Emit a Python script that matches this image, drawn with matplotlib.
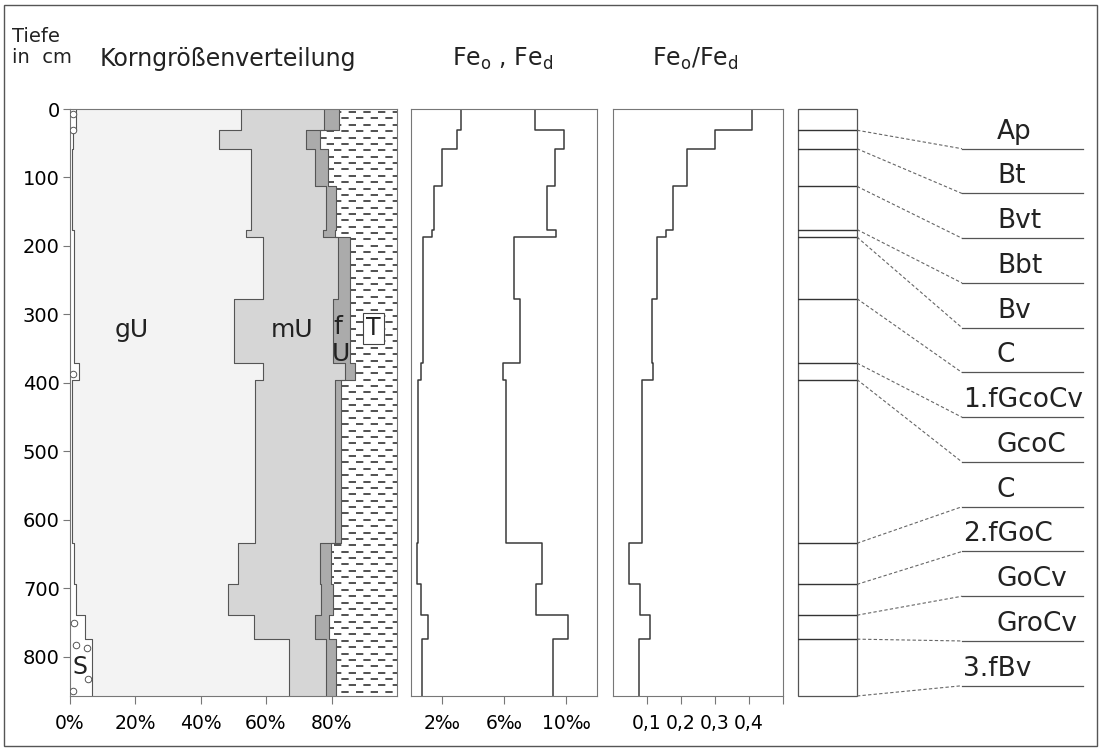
import numpy as np
import matplotlib
matplotlib.use("Agg")
import matplotlib.pyplot as plt
from matplotlib.patches import Polygon, Rectangle
from matplotlib.collections import LineCollection

plt.rcParams['font.family'] = ['DejaVu Sans']
plt.rcParams['mathtext.default'] = 'regular'

# ---------------- data ----------------
depths = [0, 31, 58, 113, 176, 187, 277, 371, 395, 634, 694, 739, 774, 857]
horizons = ["Ap", "Bt", "Bvt", "Bbt", "Bv", "C", "1.fGcoCv", "GcoC", "C",
            "2.fGoC", "GoCv", "GroCv", "3.fBv"]
# cumulative grain size boundaries (%)
sand_cum = [1.9, 1.2, 0.7, 0.7, 1.4, 1.4, 1.4, 2.9, 0.7, 1.5, 2.0, 4.7, 6.8]
gU_cum = [52.4, 45.7, 55.4, 55.4, 53.9, 59.0, 50.3, 59.0, 56.5, 51.4, 48.4, 56.2, 66.9]
mU_cum = [77.6, 72.2, 75.1, 78.3, 77.3, 82.0, 80.4, 84.0, 81.0, 76.4, 76.9, 74.9, 78.3]
fU_cum = [82.4, 76.6, 78.8, 81.5, 81.2, 85.6, 85.6, 87.3, 83.0, 79.7, 80.4, 79.1, 81.4]
# gravel/sand circle marks (x %, depth cm)
stone_x = [1.0, 1.0, 1.2, 1.5, 2.0, 5.3, 5.6, 1.2]
stone_y = [7, 31, 387, 750, 782, 787, 832, 850]
# iron (permille)
fe_o = [3.2, 2.95, 2.0, 1.5, 1.35, 0.8, 0.75, 0.65, 0.47, 0.38, 0.63, 1.1, 0.7]
fe_d = [8.0, 9.87, 9.3, 8.8, 9.35, 6.67, 7.0, 5.96, 6.15, 8.46, 8.08, 10.1, 9.17]
ratio = [0.409, 0.30, 0.217, 0.176, 0.155, 0.13, 0.114, 0.118, 0.086, 0.047, 0.079, 0.11, 0.077]

pct_ticks = [0, 20, 40, 60, 80]
pct_labels = ["0%", "20%", "40%", "60%", "80%"]
fe_ticks = [2, 6, 10]
fe_labels = ["2‰", "6‰", "10‰"]
ratio_ticks = [0.1, 0.2, 0.3, 0.4, 0.5]
ratio_labels = ["0,1", "0,2", "0,3", "0,4", ""]
depth_ticks = [0, 100, 200, 300, 400, 500, 600, 700, 800]

# ---------------- helpers ----------------
W, H = 1106, 751
fig = plt.figure(figsize=(W / 100, H / 100), dpi=100)


def px_axes(x0, y0, x1, y1):
    return fig.add_axes([x0 / W, 1 - y1 / H, (x1 - x0) / W, (y1 - y0) / H])


def ftext(x, y, s, **kw):
    fig.text(x / W, 1 - y / H, s, **kw)


def steps(bounds, vals):
    ys, xs = [], []
    for i, v in enumerate(vals):
        ys += [bounds[i], bounds[i + 1]]
        xs += [v, v]
    return np.array(ys, float), np.array(xs, float)


spine_c = "#777777"
line_c = "#3a3a3a"
DMAX = depths[-1]


def style_axes(ax):
    ax.set_ylim(DMAX, 0)
    for s in ax.spines.values():
        s.set_color(spine_c)
        s.set_linewidth(0.8)
    ax.tick_params(direction="out", length=6, width=0.8, color=spine_c,
                   labelsize=13.5, pad=7)


# frame
fig.patches.append(Rectangle((4 / W, 5 / H), 1093 / W, 741 / H, transform=fig.transFigure,
                             fill=False, edgecolor="#555555", linewidth=1.0))

# ---------------- panel 1: grain size ----------------
ax1 = px_axes(69.5, 109, 397, 696)
style_axes(ax1)
ax1.set_xlim(0, 100)
ys, s_x = steps(depths, sand_cum)
_, g_x = steps(depths, gU_cum)
_, m_x = steps(depths, mU_cum)
_, f_x = steps(depths, fU_cum)
ax1.fill_betweenx(ys, 0, s_x, color="white", lw=0)
ax1.fill_betweenx(ys, s_x, g_x, color="#f3f3f3", lw=0)
ax1.fill_betweenx(ys, g_x, m_x, color="#d6d6d6", lw=0)
ax1.fill_betweenx(ys, m_x, f_x, color="#ababab", lw=0)
tverts = np.vstack([np.column_stack([f_x, ys]),
                    np.column_stack([np.full(len(ys), 100.0), ys[::-1]])])
tpoly = Polygon(tverts, closed=True, facecolor="white", edgecolor="none")
ax1.add_patch(tpoly)
# dashed clay pattern
rows = np.arange(4.5, DMAX, 9.3)
segs = [[(0, r), (100, r)] for r in rows]
styles = [((0 if i % 2 == 0 else 4.8), (4.8, 4.8)) for i in range(len(rows))]
lc = LineCollection(segs, colors="#222222", linewidths=1.1, linestyles=styles)
ax1.add_collection(lc)
lc.set_clip_path(tpoly)
for xarr in (s_x, g_x, m_x, f_x):
    ax1.plot(xarr, ys, color="#555555", lw=0.8)
ax1.scatter(stone_x, stone_y, s=22, facecolors="white", edgecolors="#555555",
            linewidths=0.7, zorder=5)
ax1.set_xticks(pct_ticks)
ax1.set_xticklabels(pct_labels)
ax1.set_yticks(depth_ticks)
ax1.set_yticklabels([str(d) for d in depth_ticks])
ax1.tick_params(axis="y", length=5, pad=2, labelsize=14)
ax1.text(19, 323, "gU", fontsize=18, ha="center", va="center", color="#222")
ax1.text(68, 323, "mU", fontsize=18, ha="center", va="center", color="#222")
ax1.text(81.8, 318, "f", fontsize=18, ha="center", va="center", color="#222")
ax1.text(83, 357, "U", fontsize=18, ha="center", va="center", color="#222")
ax1.text(92.8, 320, "T", fontsize=17, ha="center", va="center", color="#222",
         bbox=dict(boxstyle="square,pad=0.15", fc="white", ec="#444", lw=0.8))
ax1.text(3.3, 814, "S", fontsize=17, ha="center", va="center", color="#222", zorder=6)

# ---------------- panel 2: Fe_o, Fe_d ----------------
ax2 = px_axes(411, 109, 597, 696)
style_axes(ax2)
ax2.set_xlim(0, 12)
ys2, feo_x = steps(depths, fe_o)
_, fed_x = steps(depths, fe_d)
ax2.plot(feo_x, ys2, color=line_c, lw=1.1)
ax2.plot(fed_x, ys2, color=line_c, lw=1.1)
ax2.set_xticks(fe_ticks)
ax2.set_xticklabels(fe_labels)
ax2.set_yticks([])

# ---------------- panel 3: ratio ----------------
ax3 = px_axes(613, 109, 783, 696)
style_axes(ax3)
ax3.set_xlim(0, 0.5)
ys3, r_x = steps(depths, ratio)
ax3.plot(r_x, ys3, color=line_c, lw=1.1)
ax3.set_xticks(ratio_ticks)
ax3.set_xticklabels(ratio_labels)
ax3.set_yticks([])

# ---------------- panel 4: horizons ----------------
ax4 = px_axes(798, 109, 1090, 696)
ax4.set_xlim(0, 292)
ax4.set_ylim(DMAX, 0)
ax4.axis("off")
col_w = 59
ax4.add_patch(Rectangle((0, 0), col_w, DMAX, fill=False, edgecolor="#555", lw=0.9,
                        clip_on=False))
for d in depths[1:-1]:
    ax4.plot([0, col_w], [d, d], color="#333", lw=1.0)
slots = np.linspace(58, 842, len(horizons))
for i, name in enumerate(horizons):
    ax4.plot([col_w, 164], [depths[i + 1], slots[i]], color="#666", lw=0.8,
             linestyle=(0, (3, 2)), clip_on=False)
    ax4.plot([164, 285], [slots[i], slots[i]], color="#555", lw=0.9)
    tx = 165 if name[0].isdigit() else 199
    ax4.text(tx, slots[i] - 6, name, fontsize=19, ha="left", va="bottom", color="#222")

# ---------------- titles ----------------
ftext(12, 42, "Tiefe", fontsize=14, va="baseline", color="#222")
ftext(12, 63, "in  cm", fontsize=14, va="baseline", color="#222")
ftext(100, 66, "Korngrößenverteilung", fontsize=17, va="baseline", color="#222")
ftext(503, 66, "Fe$_o$ , Fe$_d$", fontsize=17, va="baseline", ha="center", color="#222")
ftext(695, 66, "Fe$_o$/Fe$_d$", fontsize=17, va="baseline", ha="center", color="#222")

fig.savefig("out.png", dpi=100)
